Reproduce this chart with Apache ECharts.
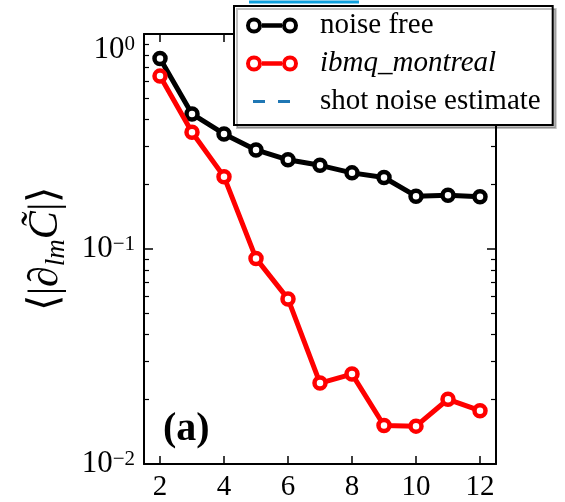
<!DOCTYPE html>
<html>
<head>
<meta charset="utf-8">
<script src="https://cdn.jsdelivr.net/npm/echarts@6/dist/echarts.min.js"></script>
<style>
  body { margin: 0; background: #fff; }
  #chart { width: 565px; height: 502px; }
</style>
</head>
<body>
<div id="chart"></div>
<script>
// data
var layers = [2, 3, 4, 5, 6, 7, 8, 9, 10, 11, 12];
var noiseFree = [0.77, 0.425, 0.343, 0.289, 0.26, 0.245, 0.226, 0.215, 0.176, 0.178, 0.175];
var montreal = [0.637, 0.349, 0.217, 0.0904, 0.0586, 0.0238, 0.0262, 0.0151, 0.0150, 0.020, 0.0177];
var shotNoise = [];
var xTicks = [2, 4, 6, 8, 10, 12];
var yMinorTicks = [0.02, 0.03, 0.04, 0.05, 0.06, 0.07, 0.08, 0.09, 0.2, 0.3, 0.4, 0.5, 0.6, 0.7, 0.8, 0.9];

var serif = 'Liberation Serif';
var ringIcon = 'path://M0,8a8,8 0 1,0 16,0a8,8 0 1,0 -16,0Z M4,8a4,4 0 1,1 8,0a4,4 0 1,1 -8,0Z M16,5.8h20v4.4h-20Z M36,8a8,8 0 1,0 16,0a8,8 0 1,0 -16,0Z M40,8a4,4 0 1,1 8,0a4,4 0 1,1 -8,0Z';
var dashIcon = 'path://M0,0h0.1v0.1h-0.1Z M7,6.5h12v3h-12Z M32,6.5h12v3h-12Z M51.9,15.9h0.1v0.1h-0.1Z';

function pairs(ys) {
  return layers.map(function (x, i) { return [x, ys[i]]; });
}

function logLabel(v) {
  var e = Math.round(Math.log10(v));
  return '{b|10}{s|' + (e < 0 ? '−' + (-e) : e) + '}';
}

var chart = echarts.init(document.getElementById('chart'));
var option;
option = {
  animation: false,
  backgroundColor: '#fff',
  grid: { left: 144, right: 69, top: 34, bottom: 34 },
  legend: {
    left: 234,
    top: 6,
    orient: 'vertical',
    backgroundColor: '#fff',
    borderColor: '#000',
    borderWidth: 2,
    borderRadius: 0,
    shadowColor: 'rgba(0,0,0,0.25)',
    shadowOffsetX: 3,
    shadowOffsetY: 3,
    shadowBlur: 0,
    padding: [5, 12, 9, 12],
    itemWidth: 52,
    itemHeight: 16,
    itemGap: 9,
    formatter: function (name) { return '{g|}' + name; },
    textStyle: {
      fontFamily: serif, fontSize: 29, color: '#000',
      rich: { g: { width: 17 } }
    },
    data: [
      { name: 'noise free', icon: ringIcon, itemStyle: { color: '#000', borderWidth: 0 } },
      { name: 'ibmq_montreal', icon: ringIcon, itemStyle: { color: '#ff0000', borderWidth: 0 }, textStyle: { fontStyle: 'italic' } },
      { name: 'shot noise estimate', icon: dashIcon, itemStyle: { color: '#1f77b4', borderWidth: 0 } }
    ]
  },
  graphic: [
    {
      type: 'line',
      shape: { x1: 249, y1: 2, x2: 359, y2: 2 },
      style: { stroke: '#0ea0de', lineWidth: 3 }
    },
    {
      type: 'text',
      x: 163,
      y: 430,
      style: {
        text: '(a)', fontFamily: serif, fontWeight: 'bold', fontSize: 40,
        fill: '#000', verticalAlign: 'middle'
      }
    }
  ],
  xAxis: [
    {
      type: 'value', position: 'bottom', min: 1.5, max: 12.5,
      splitLine: { show: false },
      axisLine: { show: true, lineStyle: { color: '#000', width: 2 } },
      axisTick: { inside: true, length: 8, lineStyle: { color: '#000', width: 1.5 }, customValues: xTicks },
      axisLabel: { customValues: xTicks, margin: 9, fontFamily: serif, fontSize: 29, color: '#000' }
    },
    {
      type: 'value', position: 'top', min: 1.5, max: 12.5,
      splitLine: { show: false },
      axisLine: { show: true, lineStyle: { color: '#000', width: 2 } },
      axisTick: { inside: true, length: 8, lineStyle: { color: '#000', width: 1.5 }, customValues: xTicks },
      axisLabel: { show: false }
    }
  ],
  yAxis: [
    {
      type: 'log', logBase: 10, min: 0.01, max: 1, position: 'left',
      name: '{u|⟨|}{i|∂}{sub|lm}{i|C̃}{u||⟩}',
      nameLocation: 'middle',
      nameGap: 72,
      nameTextStyle: {
        color: '#000',
        rich: {
          u: { fontFamily: serif, fontSize: 42, color: '#000' },
          i: { fontFamily: serif, fontSize: 42, fontStyle: 'italic', color: '#000' },
          sub: { fontFamily: serif, fontSize: 27, fontStyle: 'italic', color: '#000', verticalAlign: 'bottom', padding: [22, 0, 0, 0] }
        }
      },
      splitLine: { show: false },
      axisLine: { show: true, lineStyle: { color: '#000', width: 2 } },
      axisTick: { inside: true, length: 9, lineStyle: { color: '#000', width: 1.5 } },
      axisLabel: {
        margin: 9,
        formatter: logLabel,
        verticalAlignMaxLabel: 'top',
        rich: {
          b: { fontFamily: serif, fontSize: 31, color: '#000' },
          s: { fontFamily: serif, fontSize: 21, color: '#000', verticalAlign: 'top' }
        }
      }
    },
    {
      type: 'log', logBase: 10, min: 0.01, max: 1, position: 'left',
      splitLine: { show: false },
      axisLine: { show: false },
      axisTick: { inside: true, length: 5, lineStyle: { color: '#000', width: 1.2 }, customValues: yMinorTicks },
      axisLabel: { show: false }
    },
    {
      type: 'log', logBase: 10, min: 0.01, max: 1, position: 'right',
      splitLine: { show: false },
      axisLine: { show: true, lineStyle: { color: '#000', width: 2 } },
      axisTick: { inside: true, length: 9, lineStyle: { color: '#000', width: 1.5 } },
      axisLabel: { show: false }
    },
    {
      type: 'log', logBase: 10, min: 0.01, max: 1, position: 'right',
      splitLine: { show: false },
      axisLine: { show: false },
      axisTick: { inside: true, length: 5, lineStyle: { color: '#000', width: 1.2 }, customValues: yMinorTicks },
      axisLabel: { show: false }
    }
  ],
  series: [
    {
      name: 'noise free',
      type: 'line',
      data: pairs(noiseFree),
      symbol: 'circle',
      symbolSize: 11,
      color: '#000',
      lineStyle: { color: '#000', width: 5 },
      itemStyle: { color: '#fff', borderColor: '#000', borderWidth: 4.5 },
      z: 3
    },
    {
      name: 'ibmq_montreal',
      type: 'line',
      data: pairs(montreal),
      symbol: 'circle',
      symbolSize: 11,
      color: '#ff0000',
      lineStyle: { color: '#ff0000', width: 5 },
      itemStyle: { color: '#fff', borderColor: '#ff0000', borderWidth: 4.5 },
      z: 4
    },
    {
      name: 'shot noise estimate',
      type: 'line',
      data: shotNoise,
      symbol: 'none',
      color: '#1f77b4',
      lineStyle: { color: '#1f77b4', width: 3, type: [12, 12] }
    }
  ]
};
chart.setOption(option);
</script>
</body>
</html>
